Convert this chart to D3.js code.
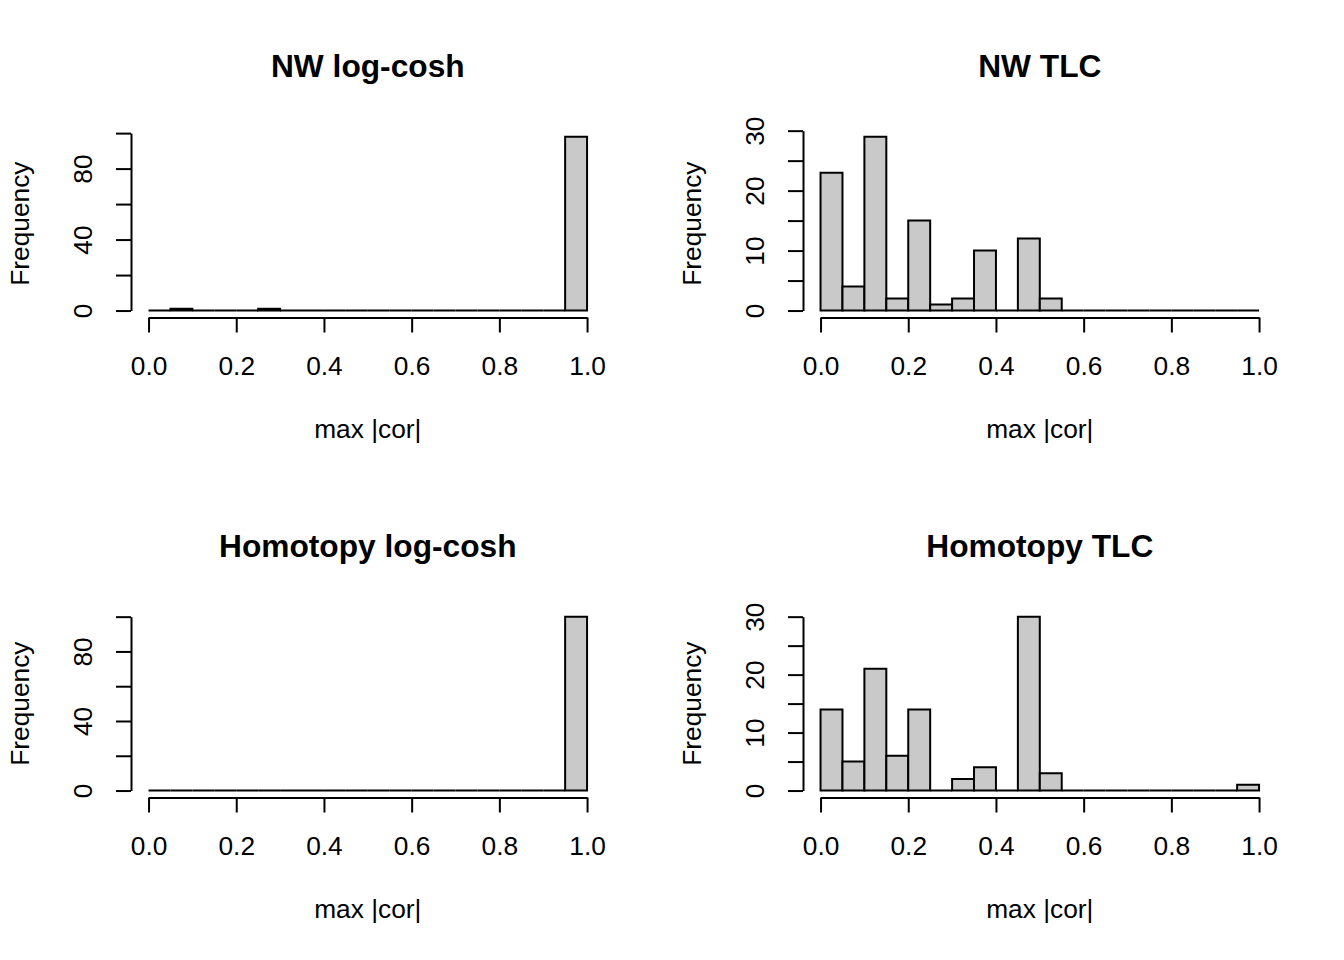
<!DOCTYPE html>
<html>
<head>
<meta charset="utf-8">
<script src="https://cdn.jsdelivr.net/npm/d3@7"></script>
<style>
  body { margin: 0; background: #fff; }
  svg { display: block; font-family: "Liberation Sans", Arial, Helvetica, sans-serif; }
</style>
</head>
<body>
<svg id="chart"></svg>
<script>
// 20 bins of width 0.05 over [0, 1]
var binEdges = d3.range(0, 21).map(function (i) { return i / 20 })

var titles = ['NW log-cosh', 'NW TLC', 'Homotopy log-cosh', 'Homotopy TLC']

var nwLogcosh = [0, 1, 0, 0, 0, 1, 0, 0, 0, 0, 0, 0, 0, 0, 0, 0, 0, 0, 0, 98]
var nwTlc = [23, 4, 29, 2, 15, 1, 2, 10, 0, 12, 2, 0, 0, 0, 0, 0, 0, 0, 0, 0]
var homLogcosh = [0, 0, 0, 0, 0, 0, 0, 0, 0, 0, 0, 0, 0, 0, 0, 0, 0, 0, 0, 100]
var homTlc = [14, 5, 21, 6, 14, 0, 2, 4, 0, 30, 3, 0, 0, 0, 0, 0, 0, 0, 0, 1]

var xTicks = [0, 0.2, 0.4, 0.6, 0.8, 1.0]
var logcoshTicks = [0, 20, 40, 60, 80, 100]
var logcoshLabels = [0, 40, 80]
var tlcTicks = [0, 5, 10, 15, 20, 25, 30]
var tlcLabels = [0, 10, 20, 30]

var xLabel = 'max |cor|'
var yLabel = 'Frequency'

var panels = [
  { title: titles[0], counts: nwLogcosh, ticks: logcoshTicks, labels: logcoshLabels, col: 0, row: 0 },
  { title: titles[1], counts: nwTlc, ticks: tlcTicks, labels: tlcLabels, col: 1, row: 0 },
  { title: titles[2], counts: homLogcosh, ticks: logcoshTicks, labels: logcoshLabels, col: 0, row: 1 },
  { title: titles[3], counts: homTlc, ticks: tlcTicks, labels: tlcLabels, col: 1, row: 1 }
]

var width = 1344
var height = 960
var panelW = 672
var panelH = 480

// plot region inside a panel (R style, 4% padding on each axis)
var regLeft = 131
var regRight = 604.6
var regTop = 129.7
var regBottom = 317.5
var fontSize = 26.3

var svg = d3.select('#chart')
  .attr('width', width)
  .attr('height', height)

svg.append('rect')
  .attr('width', width)
  .attr('height', height)
  .attr('fill', '#fff')

panels.forEach(function (p) {
  var g = svg.append('g')
    .attr('transform', 'translate(' + p.col * panelW + ',' + p.row * panelH + ')')

  var x = d3.scaleLinear()
    .domain([-0.04, 1.04])
    .range([regLeft, regRight])

  var ymax = d3.max(p.counts)
  var y = d3.scaleLinear()
    .domain([-0.04 * ymax, 1.04 * ymax])
    .range([regBottom, regTop])

  var bins = p.counts.map(function (c, i) {
    return { x0: binEdges[i], x1: binEdges[i + 1], n: c }
  })

  // bars as closed paths so empty bins still show as a line on the baseline
  g.selectAll('path.bar')
    .data(bins)
    .enter()
    .append('path')
    .attr('class', 'bar')
    .attr('d', function (d) {
      var path = d3.path()
      path.rect(x(d.x0), y(d.n), x(d.x1) - x(d.x0), y(0) - y(d.n))
      return path.toString()
    })
    .attr('fill', '#c9c9c9')
    .attr('stroke', '#000')
    .attr('stroke-width', 2)

  // x axis, spanning only the data range like R
  var xAxisScale = x.copy().domain([0, 1]).range([x(0), x(1)])
  var xAxis = g.append('g')
    .attr('transform', 'translate(0,' + regBottom + ')')
    .call(d3.axisBottom(xAxisScale)
      .tickValues(xTicks)
      .tickSize(15)
      .tickSizeOuter(0)
      .tickFormat(d3.format('.1f')))

  xAxis.select('.domain').attr('stroke-width', 2)
  xAxis.selectAll('.tick line').attr('stroke-width', 2)
  xAxis.selectAll('.tick text')
    .attr('y', 57.5)
    .attr('dy', null)
    .attr('fill', '#000')
    .style('font-size', fontSize + 'px')
    .style('font-family', null)

  // y axis
  var yTop = d3.max(p.ticks)
  var yAxisScale = y.copy().domain([0, yTop]).range([y(0), y(yTop)])
  var yAxis = g.append('g')
    .attr('transform', 'translate(' + regLeft + ',0)')
    .call(d3.axisLeft(yAxisScale)
      .tickValues(p.ticks)
      .tickSize(15)
      .tickSizeOuter(0)
      .tickFormat(function (d) { return p.labels.indexOf(d) >= 0 ? d : '' }))

  yAxis.select('.domain').attr('stroke-width', 2)
  yAxis.selectAll('.tick line').attr('stroke-width', 2)
  yAxis.selectAll('.tick text')
    .attr('x', null)
    .attr('dy', null)
    .attr('text-anchor', 'middle')
    .attr('transform', 'translate(-39,0) rotate(-90)')
    .attr('fill', '#000')
    .style('font-size', fontSize + 'px')
    .style('font-family', null)

  // title and axis labels
  var cx = (regLeft + regRight) / 2
  g.append('text')
    .attr('x', cx)
    .attr('y', 77)
    .attr('text-anchor', 'middle')
    .attr('font-weight', 'bold')
    .attr('font-size', 31.7)
    .text(p.title)

  g.append('text')
    .attr('x', cx)
    .attr('y', 438)
    .attr('text-anchor', 'middle')
    .attr('font-size', fontSize)
    .text(xLabel)

  g.append('text')
    .attr('transform', 'translate(28.5,' + (regTop + regBottom) / 2 + ') rotate(-90)')
    .attr('text-anchor', 'middle')
    .attr('font-size', fontSize)
    .text(yLabel)
})
</script>
</body>
</html>
